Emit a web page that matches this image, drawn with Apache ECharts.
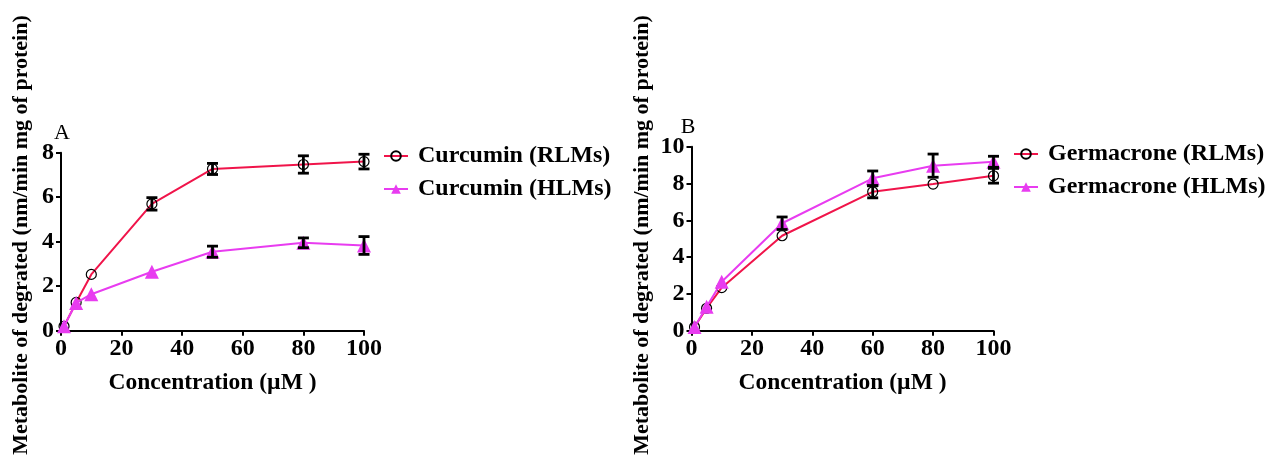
<!DOCTYPE html>
<html>
<head>
<meta charset="utf-8">
<script src="https://cdn.jsdelivr.net/npm/echarts@6/dist/echarts.min.js"></script>
<style>
html,body{margin:0;padding:0;background:#fff;}
#c{width:1274px;height:459px;}
</style>
</head>
<body>
<div id="c"></div>
<script>
// ---- data ----
var concA = [1, 5, 10, 30, 50, 80, 100];
var curRLM = [0.2, 1.27, 2.53, 5.7, 7.27, 7.47, 7.6];
var curRLMerr = [0, 0, 0, 0.28, 0.25, 0.39, 0.33];
var curHLM = [0.2, 1.25, 1.64, 2.65, 3.55, 3.95, 3.83];
var curHLMerr = [0, 0, 0, 0, 0.25, 0.22, 0.4];

var concB = [1, 5, 10, 30, 60, 80, 100];
var gerRLM = [0.2, 1.22, 2.34, 5.16, 7.55, 7.97, 8.42];
var gerRLMerr = [0, 0, 0, 0, 0.33, 0, 0.4];
var gerHLM = [0.2, 1.3, 2.66, 5.84, 8.28, 8.97, 9.18];
var gerHLMerr = [0, 0, 0, 0.34, 0.4, 0.63, 0.3];

var xTicks = [0, 20, 40, 60, 80, 100];
var namesA = ['Curcumin (RLMs)', 'Curcumin (HLMs)'];
var namesB = ['Germacrone (RLMs)', 'Germacrone (HLMs)'];
var yTitle = 'Metabolite of degrated (nm/min mg of protein)';
var xTitle = 'Concentration (\u00b5M )';

// ---- styling ----
var RED = '#F0144A', MAG = '#E83CF0';
var FONT = '"Liberation Serif","Times New Roman",serif';

function pairs(xs, ys) { return xs.map(function (x, i) { return [x, ys[i]]; }); }
function errData(xs, ys, es) { return xs.map(function (x, i) { return [x, ys[i], es[i]]; }); }

function errSeries(idx, data) {
  return {
    type: 'custom', xAxisIndex: idx, yAxisIndex: idx, z: 5, silent: true,
    data: data,
    renderItem: function (params, api) {
      var x = api.value(0), y = api.value(1), e = api.value(2);
      if (!e) return null;
      var top = api.coord([x, y + e]);
      var bot = api.coord([x, y - e]);
      var hw = 5.5;
      var st = { stroke: '#000', lineWidth: 2.8 };
      return {
        type: 'group', children: [
          { type: 'line', shape: { x1: top[0], y1: top[1], x2: bot[0], y2: bot[1] }, style: st },
          { type: 'line', shape: { x1: top[0] - hw, y1: top[1], x2: top[0] + hw, y2: top[1] }, style: st },
          { type: 'line', shape: { x1: bot[0] - hw, y1: bot[1], x2: bot[0] + hw, y2: bot[1] }, style: st }
        ]
      };
    }
  };
}

function rlmSeries(idx, name, data) {
  return {
    type: 'line', name: name, xAxisIndex: idx, yAxisIndex: idx, data: data,
    symbol: 'circle', symbolSize: 10, z: 3,
    lineStyle: { color: RED, width: 2 },
    itemStyle: { color: 'rgba(255,255,255,0)', borderColor: '#000', borderWidth: 1.2 },
    color: RED
  };
}
function hlmSeries(idx, name, data) {
  return {
    type: 'line', name: name, xAxisIndex: idx, yAxisIndex: idx, data: data,
    symbol: 'triangle', symbolSize: 14, z: 4,
    lineStyle: { color: MAG, width: 2 },
    itemStyle: { color: MAG },
    color: MAG
  };
}

function xAxis(idx) {
  return {
    type: 'value', gridIndex: idx, min: 0, max: 100, interval: 20,
    axisLine: { show: true, onZero: false, lineStyle: { color: '#000', width: 2 } },
    axisTick: { show: true, length: 5, lineStyle: { color: '#000', width: 2 } },
    axisLabel: { color: '#000', fontFamily: FONT, fontWeight: 'bold', fontSize: 24, margin: 6,
      formatter: function (v) { return xTicks.indexOf(v) >= 0 ? String(v) : ''; } },
    splitLine: { show: false },
    name: xTitle, nameLocation: 'middle', nameGap: 40,
    nameTextStyle: { color: '#000', fontFamily: FONT, fontWeight: 'bold', fontSize: 23.5 }
  };
}
function yAxis(idx, max) {
  return {
    type: 'value', gridIndex: idx, min: 0, max: max, interval: 2,
    axisLine: { show: true, onZero: false, lineStyle: { color: '#000', width: 2 } },
    axisTick: { show: true, length: 5, lineStyle: { color: '#000', width: 2 } },
    axisLabel: { color: '#000', fontFamily: FONT, fontWeight: 'bold', fontSize: 24, margin: 7 },
    splitLine: { show: false }
  };
}

function legend(left, top, names) {
  return {
    orient: 'vertical', left: left, top: top, data: names, padding: 0,
    itemWidth: 24, itemHeight: 12, itemGap: 9,
    textStyle: { color: '#000', fontFamily: FONT, fontWeight: 'bold', fontSize: 24, padding: [0, 0, 0, 5] },
    selectedMode: false
  };
}

var chart = echarts.init(document.getElementById('c'), null, { renderer: 'canvas' });
chart.setOption({
  backgroundColor: '#fff',
  animation: false,
  grid: [
    { left: 61, top: 152.7, width: 303, height: 178 },
    { left: 691.5, top: 146.7, width: 302, height: 184 }
  ],
  xAxis: [xAxis(0), xAxis(1)],
  yAxis: [yAxis(0, 8), yAxis(1, 10)],
  legend: [legend(383, 144, namesA), legend(1013, 142, namesB)],
  series: [
    rlmSeries(0, namesA[0], pairs(concA, curRLM)),
    hlmSeries(0, namesA[1], pairs(concA, curHLM)),
    errSeries(0, errData(concA, curRLM, curRLMerr)),
    errSeries(0, errData(concA, curHLM, curHLMerr)),
    rlmSeries(1, namesB[0], pairs(concB, gerRLM)),
    hlmSeries(1, namesB[1], pairs(concB, gerHLM)),
    errSeries(1, errData(concB, gerRLM, gerRLMerr)),
    errSeries(1, errData(concB, gerHLM, gerHLMerr))
  ],
  graphic: [
    { type: 'text', x: 21, y: 235, rotation: Math.PI / 2,
      style: { text: yTitle, font: 'bold 22px ' + FONT, fill: '#000', align: 'center', verticalAlign: 'middle' } },
    { type: 'text', x: 642, y: 235, rotation: Math.PI / 2,
      style: { text: yTitle, font: 'bold 22px ' + FONT, fill: '#000', align: 'center', verticalAlign: 'middle' } },
    { type: 'text', x: 62, y: 133,
      style: { text: 'A', font: '22px ' + FONT, fill: '#000', align: 'center', verticalAlign: 'middle' } },
    { type: 'text', x: 688, y: 127,
      style: { text: 'B', font: '22px ' + FONT, fill: '#000', align: 'center', verticalAlign: 'middle' } }
  ]
});
</script>
</body>
</html>
